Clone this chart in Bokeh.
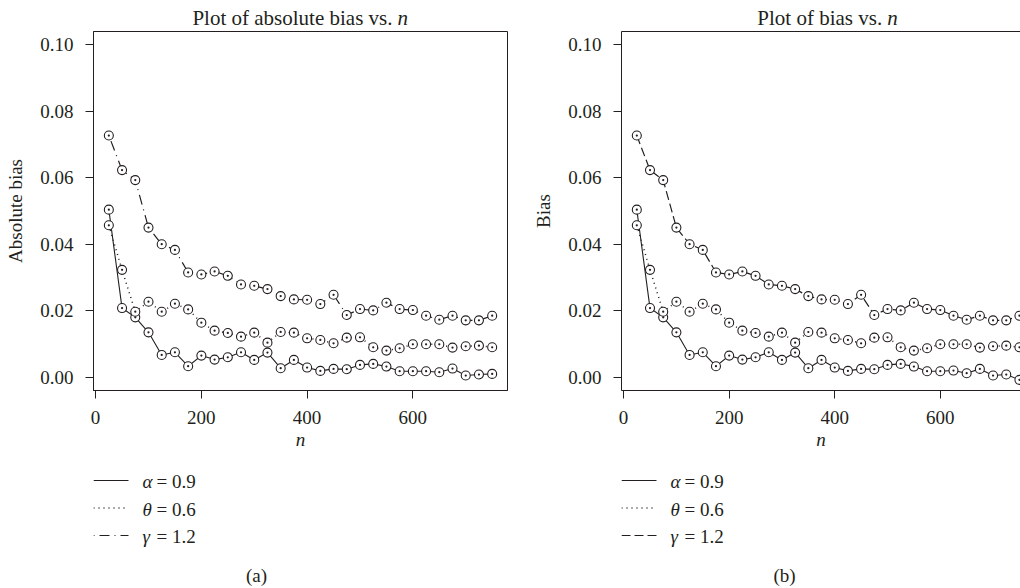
from bokeh.plotting import figure
from bokeh.layouts import row, column
from bokeh.models import Range1d, FixedTicker, PrintfTickFormatter, LinearAxis
from bokeh.core.properties import value
from bokeh.embed import file_html
from bokeh.resources import INLINE

# sample sizes
n = [25, 50, 75, 100, 125, 150, 175, 200, 225, 250, 275, 300, 325, 350, 375,
     400, 425, 450, 475, 500, 525, 550, 575, 600, 625, 650, 675, 700, 725, 750]

# absolute bias of each estimator
abs_alpha = [0.0504, 0.0208, 0.0180, 0.0135, 0.0067, 0.0075, 0.0033, 0.0065, 0.0053, 0.0060,
             0.0075, 0.0052, 0.0074, 0.0027, 0.0052, 0.0029, 0.0019, 0.0025, 0.0024, 0.0037,
             0.0040, 0.0032, 0.0018, 0.0018, 0.0018, 0.0015, 0.0026, 0.0005, 0.0008, 0.0010]
abs_theta = [0.0457, 0.0323, 0.0197, 0.0227, 0.0197, 0.0221, 0.0204, 0.0164, 0.0140, 0.0133,
             0.0122, 0.0134, 0.0104, 0.0136, 0.0134, 0.0117, 0.0112, 0.0102, 0.0119, 0.0120,
             0.0090, 0.0080, 0.0087, 0.0099, 0.0099, 0.0099, 0.0089, 0.0093, 0.0095, 0.0090]
abs_gamma = [0.0727, 0.0623, 0.0593, 0.0450, 0.0400, 0.0383, 0.0315, 0.0309, 0.0318, 0.0305,
             0.0279, 0.0275, 0.0265, 0.0244, 0.0234, 0.0233, 0.0220, 0.0248, 0.0187, 0.0205,
             0.0201, 0.0224, 0.0205, 0.0202, 0.0185, 0.0173, 0.0185, 0.0171, 0.0171, 0.0185]

# signed bias of each estimator
bias_alpha = [0.0504, 0.0208, 0.0180, 0.0135, 0.0067, 0.0075, 0.0033, 0.0065, 0.0053, 0.0060,
              0.0075, 0.0052, 0.0074, 0.0027, 0.0052, 0.0029, 0.0019, 0.0025, 0.0024, 0.0037,
              0.0040, 0.0032, 0.0018, 0.0018, 0.0020, 0.0012, 0.0025, 0.0005, 0.0008, -0.0008]
bias_theta = [0.0457, 0.0323, 0.0197, 0.0227, 0.0197, 0.0221, 0.0204, 0.0164, 0.0140, 0.0133,
              0.0122, 0.0134, 0.0104, 0.0136, 0.0134, 0.0117, 0.0112, 0.0102, 0.0119, 0.0120,
              0.0090, 0.0080, 0.0087, 0.0099, 0.0099, 0.0099, 0.0089, 0.0093, 0.0095, 0.0090]
bias_gamma = [0.0727, 0.0623, 0.0593, 0.0450, 0.0400, 0.0383, 0.0315, 0.0309, 0.0318, 0.0305,
              0.0279, 0.0275, 0.0265, 0.0244, 0.0234, 0.0233, 0.0220, 0.0248, 0.0187, 0.0205,
              0.0201, 0.0224, 0.0205, 0.0202, 0.0185, 0.0173, 0.0185, 0.0171, 0.0171, 0.0185]

symbols = ["α", "θ", "γ"]
legend_values = ["= 0.9", "= 0.6", "= 1.2"]
x_ticks = [0, 200, 400, 600]
y_ticks = [0.00, 0.02, 0.04, 0.06, 0.08, 0.10]
y_limits = (0.0, 0.10)

FONT = "Liberation Serif"
INK = "#231f20"
TEXT_PX = "19px"
TITLE_PX = "21px"
LINE_WIDTHS = [1.1, 1.5, 1.2]   # solid, dotted, dash-dot / dashed

# vertical layout of each panel: heading strip, plot, legend strip
HEAD_H = 28
PLOT_H = 432
FOOT_H = 588 - HEAD_H - PLOT_H
FRAME_TOP = 3       # gap between the heading strip and the plot box
FRAME_BOTTOM = 70   # room for ticks, tick labels and the axis title

# R-style 4% padding on both axes
x_pad = 0.04 * (max(n) - min(n))
x_start, x_full_end = min(n) - x_pad, max(n) + x_pad
y_pad = 0.04 * (y_limits[1] - y_limits[0])
y_start, y_end = y_limits[0] - y_pad, y_limits[1] + y_pad


def strip(width, height, left, right):
    """A blank figure sharing the plot's column; x is measured in pixels from the box's left edge."""
    s = figure(width=width, height=height, output_backend="svg", toolbar_location=None,
               x_range=Range1d(0, width - left - right), y_range=Range1d(0, height),
               x_axis_type=None, y_axis_type=None,
               min_border_left=left, min_border_right=right, min_border_top=0, min_border_bottom=0,
               background_fill_color="white", border_fill_color="white")
    s.grid.visible = False
    s.outline_line_color = None
    return s


def panel(width, left, right, x_end, ylabel, title_text, title_gap, series, dashes, tag, boxed):
    p = figure(width=width, height=PLOT_H, output_backend="svg", toolbar_location=None,
               x_range=Range1d(x_start, x_end), y_range=Range1d(y_start, y_end),
               min_border_left=left, min_border_right=right,
               min_border_top=FRAME_TOP, min_border_bottom=FRAME_BOTTOM,
               background_fill_color="white", border_fill_color="white")
    p.grid.visible = False
    p.outline_line_color = INK if boxed else None
    p.outline_line_width = 1

    for ax in (p.xaxis[0], p.yaxis[0]):
        ax.axis_line_color = INK
        ax.major_tick_line_color = INK
        ax.major_tick_out = 8
        ax.major_tick_in = 0
        ax.minor_tick_line_color = None
        ax.major_label_text_font = FONT
        ax.major_label_text_font_size = TEXT_PX
        ax.major_label_text_color = INK
        ax.major_label_standoff = 12
        ax.axis_label_text_font = FONT
        ax.axis_label_text_font_size = TEXT_PX
        ax.axis_label_text_color = INK

    p.xaxis.ticker = FixedTicker(ticks=x_ticks)
    p.xaxis.axis_label = "n"
    p.xaxis.axis_label_text_font_style = "italic"
    p.xaxis.axis_label_standoff = 2
    p.yaxis.ticker = FixedTicker(ticks=y_ticks)
    p.yaxis.formatter = PrintfTickFormatter(format="%.2f")
    p.yaxis.major_label_orientation = "horizontal"
    p.yaxis.axis_label = ylabel
    p.yaxis.axis_label_text_font_style = "normal"
    p.yaxis.axis_label_standoff = 11

    if not boxed:
        # top edge of the box when the right edge runs off the page
        top = LinearAxis(axis_line_color=INK, major_tick_line_color=None,
                         minor_tick_line_color=None, major_label_text_font_size="0px",
                         ticker=FixedTicker(ticks=[]))
        p.add_layout(top, "above")

    for ys, dash, lw in zip(series, dashes, LINE_WIDTHS):
        p.line(n, ys, line_color=INK, line_width=lw, line_dash=dash)
    for ys in series:
        p.scatter(n, ys, marker="circle_dot", size=9, line_color=INK, line_width=1.1,
                  fill_color="white")

    # heading: upright text followed by an italic n, centred over the full data span
    frame_w = width - left - right
    scale = frame_w / (x_end - x_start)
    xc = ((x_start + x_full_end) / 2 - x_start) * scale
    head = strip(width, HEAD_H, left, right)
    head.text(x=[xc + title_gap[0]], y=[HEAD_H - 17], text=[title_text], text_align="right",
              text_baseline="middle", text_font=value(FONT),
              text_font_size=value(TITLE_PX), text_color=INK)
    head.text(x=[xc + title_gap[1]], y=[HEAD_H - 17], text=["n"], text_align="left",
              text_baseline="middle", text_font=value(FONT), text_font_style="italic",
              text_font_size=value(TITLE_PX), text_color=INK)

    # legend strip below the plot
    foot = strip(width, FOOT_H, left, right)
    rows_y = [FOOT_H - 20 - 27.5 * i for i in range(len(symbols))]
    for dash, lw, yy in zip(dashes, LINE_WIDTHS, rows_y):
        foot.line([0, 35], [yy, yy], line_color=INK, line_width=lw, line_dash=dash)
    text_y = [yy - 1 for yy in rows_y]
    foot.text(x=[49] * 3, y=text_y, text=symbols, text_align="left",
              text_baseline="middle", text_font=value(FONT), text_font_style="italic",
              text_font_size=value(TEXT_PX), text_color=INK)
    foot.text(x=[63] * 3, y=text_y, text=legend_values,
              text_align="left", text_baseline="middle", text_font=value(FONT),
              text_font_size=value(TEXT_PX), text_color=INK)
    foot.text(x=[163], y=[13], text=[tag], text_align="center",
              text_baseline="middle", text_font=value(FONT),
              text_font_size=value(TEXT_PX), text_color=INK)

    return column(head, p, foot, spacing=0)


col_abs = panel(520, 93, 13, x_full_end, "Absolute bias", "Plot of absolute bias vs.", (92, 97),
                [abs_alpha, abs_theta, abs_gamma], ["solid", "1 4", "1 5 10 5"], "(a)", True)
col_bias = panel(500, 101, 0, 752, "Bias", "Plot of bias vs.", (54, 59),
                 [bias_alpha, bias_theta, bias_gamma], ["solid", "1 4", "9 4"], "(b)", False)

layout = row(col_abs, col_bias, spacing=0)
open("out.html", "w").write(file_html(layout, INLINE))
